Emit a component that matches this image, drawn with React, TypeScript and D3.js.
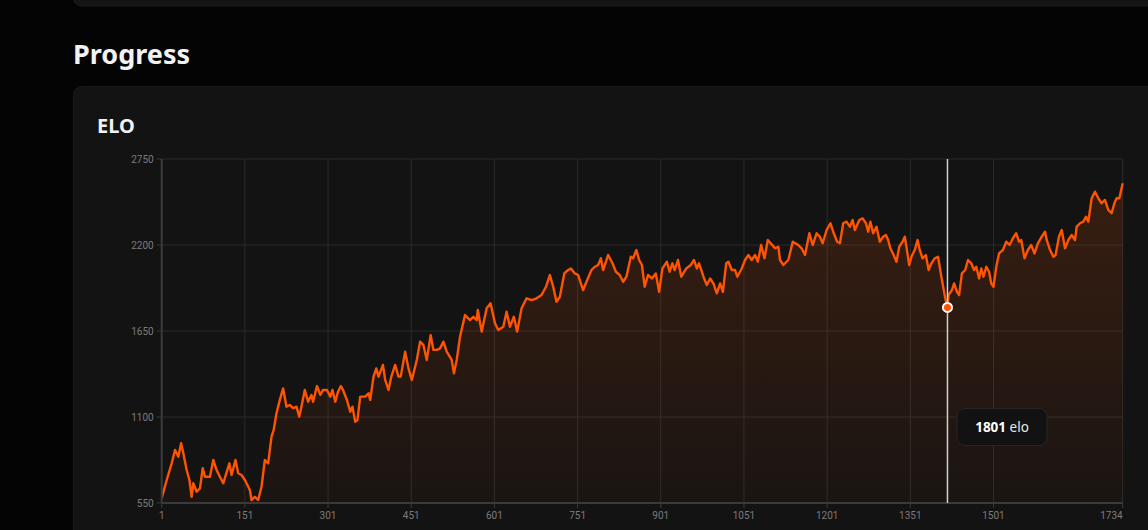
import React from "react";
import * as d3 from "d3";

const games = [
  1, 10, 19, 25, 31, 36, 40, 46, 51, 55, 58, 64, 70, 75, 79, 88, 94, 100, 106, 112,
  123, 127, 134, 139, 145, 151, 160, 163, 169, 175, 181, 187, 193, 199, 203, 208, 214, 220, 226, 232,
  238, 244, 249, 253, 259, 265, 271, 274, 281, 287, 292, 299, 305, 309, 314, 319, 324, 328, 335, 341,
  345, 350, 354, 359, 368, 374, 377, 383, 388, 392, 400, 404, 410, 415, 422, 428, 432, 440, 446, 452,
  455, 461, 467, 473, 479, 486, 491, 497, 503, 509, 515, 524, 528, 533, 539, 548, 557, 563, 569, 571,
  578, 587, 594, 602, 608, 617, 623, 629, 636, 642, 650, 659, 668, 677, 686, 694, 701, 707, 713, 719,
  727, 734, 739, 746, 752, 761, 767, 776, 782, 788, 793, 797, 806, 814, 820, 827, 833, 839, 847, 851,
  857, 862, 867, 872, 878, 885, 892, 898, 904, 912, 917, 922, 926, 932, 938, 947, 955, 961, 966, 970,
  978, 984, 990, 996, 1002, 1008, 1013, 1019, 1023, 1029, 1035, 1039, 1047, 1053, 1059, 1065, 1071, 1076, 1082, 1088,
  1094, 1102, 1107, 1113, 1116, 1122, 1131, 1139, 1149, 1155, 1161, 1169, 1175, 1182, 1188, 1193, 1200, 1207, 1212, 1219,
  1224, 1230, 1236, 1242, 1247, 1251, 1259, 1265, 1271, 1275, 1279, 1284, 1290, 1296, 1302, 1307, 1311, 1315, 1321, 1326,
  1331, 1337, 1341, 1344, 1349, 1353, 1359, 1364, 1368, 1373, 1379, 1384, 1389, 1395, 1401, 1407, 1414, 1418, 1420, 1426,
  1430, 1435, 1439, 1444, 1450, 1455, 1461, 1466, 1470, 1475, 1479, 1483, 1488, 1493, 1497, 1501, 1506, 1511, 1518, 1524,
  1530, 1536, 1542, 1547, 1551, 1557, 1563, 1569, 1575, 1581, 1588, 1594, 1597, 1603, 1609, 1613, 1619, 1624, 1630, 1636,
  1642, 1648, 1651, 1657, 1663, 1668, 1672, 1678, 1684, 1690, 1696, 1702, 1708, 1714, 1719, 1723, 1728, 1734,
];

const elo = [
  580, 697, 804, 889, 846, 932, 868, 761, 697, 590, 676, 622, 644, 772, 718, 718, 825, 761, 718, 676,
  804, 729, 825, 740, 729, 697, 633, 569, 590, 569, 654, 825, 804, 974, 1017, 1124, 1209, 1283, 1166, 1177,
  1156, 1166, 1102, 1166, 1273, 1198, 1241, 1198, 1298, 1241, 1273, 1273, 1230, 1273, 1198, 1262, 1298, 1273, 1209, 1134,
  1166, 1070, 1081, 1230, 1230, 1252, 1209, 1358, 1411, 1358, 1433, 1337, 1273, 1358, 1433, 1358, 1358, 1518, 1411, 1337,
  1379, 1465, 1582, 1560, 1465, 1624, 1529, 1529, 1539, 1582, 1518, 1465, 1379, 1465, 1614, 1752, 1720, 1741, 1720, 1784,
  1646, 1795, 1827, 1699, 1656, 1677, 1773, 1677, 1741, 1646, 1795, 1859, 1848, 1859, 1880, 1933, 2008, 1933, 1837, 1869,
  2018, 2040, 2050, 2018, 2008, 1912, 1965, 2040, 2061, 2072, 2115, 2040, 2136, 2083, 2029, 2008, 1965, 1997, 2125, 2115,
  2168, 2104, 2072, 1933, 2008, 1986, 2018, 1901, 2050, 2093, 2029, 2083, 2040, 2104, 1997, 2050, 2072, 2104, 2050, 2083,
  1997, 1944, 1986, 1954, 1891, 1954, 1901, 2083, 2093, 2040, 2040, 1997, 2050, 2104, 2136, 2104, 2136, 2093, 2200, 2115,
  2232, 2200, 2179, 2189, 2104, 2072, 2104, 2221, 2200, 2179, 2136, 2275, 2200, 2275, 2253, 2211, 2296, 2339, 2285, 2221,
  2211, 2339, 2349, 2317, 2360, 2296, 2360, 2370, 2339, 2285, 2349, 2275, 2317, 2221, 2253, 2264, 2232, 2179, 2136, 2093,
  2189, 2221, 2253, 2189, 2072, 2125, 2168, 2232, 2168, 2115, 2136, 2040, 2083, 2115, 2125, 1997, 1859, 1801, 1880, 1912,
  1954, 1901, 1880, 2018, 2040, 2104, 2083, 2040, 2061, 1986, 2050, 1997, 2061, 2029, 1954, 1933, 2061, 2146, 2168, 2221,
  2200, 2243, 2275, 2221, 2232, 2115, 2168, 2200, 2146, 2211, 2253, 2285, 2232, 2168, 2125, 2136, 2253, 2296, 2179, 2232,
  2264, 2232, 2317, 2339, 2349, 2381, 2349, 2499, 2541, 2499, 2467, 2488, 2424, 2403, 2467, 2499, 2499, 2595,
];

const xTicks = [1, 151, 301, 451, 601, 751, 901, 1051, 1201, 1351, 1501, 1734];
const yTicks = [550, 1100, 1650, 2200, 2750];
const hoverGame = 1418;
const hoverElo = 1801;

export default function App() {
  React.useEffect(() => {
    document.body.style.margin = "0";
    document.body.style.background = "#040404";
  }, []);

  const W = 1148;
  const H = 530;
  const left = 161.7;
  const right = 1122.7;
  const top = 159;
  const bottom = 503;

  const x = d3.scaleLinear().domain([1, 1734]).range([left, right]);
  const y = d3.scaleLinear().domain([550, 2750]).range([bottom, top]);

  const pts = games.map((g, i) => [g, elo[i]] as [number, number]);
  const line = d3
    .line<[number, number]>()
    .x((d) => x(d[0]))
    .y((d) => y(d[1]));
  const area = d3
    .area<[number, number]>()
    .x((d) => x(d[0]))
    .y0(bottom)
    .y1((d) => y(d[1]));

  const hx = x(hoverGame);
  const hy = y(hoverElo);
  const labelFont = "Roboto, 'Liberation Sans', sans-serif";

  return (
    <svg
      width={W}
      height={H}
      style={{ position: "absolute", left: 0, top: 0, display: "block" }}
    >
      <defs>
        <linearGradient id="areaGrad" gradientUnits="userSpaceOnUse" x1="0" y1={top} x2="0" y2={bottom}>
          <stop offset="0%" stopColor="#ff5500" stopOpacity={0.17} />
          <stop offset="100%" stopColor="#ff5500" stopOpacity={0.03} />
        </linearGradient>
        <clipPath id="plotClip">
          <rect x={left} y={top - 2} width={right - left + 2} height={bottom - top + 2} />
        </clipPath>
      </defs>
      <rect x={0} y={0} width={W} height={H} fill="#040404" />
      {/* previous card edge */}
      <rect x={73.5} y={-20} width={1100} height={26} rx={8} fill="#141414" stroke="#1c1c1c" />
      <text
        x={73}
        y={64}
        fill="#f2f2f2"
        fontSize={27}
        fontWeight={700}
        fontFamily="'Noto Sans', 'Open Sans', sans-serif"
      >
        Progress
      </text>
      {/* card */}
      <rect x={73.5} y={86.5} width={1100} height={480} rx={8} fill="#131313" stroke="#191919" />
      <text
        x={97}
        y={133}
        fill="#f2f2f2"
        fontSize={20}
        fontWeight={700}
        fontFamily="'Noto Sans', 'Open Sans', sans-serif"
      >
        ELO
      </text>

      {/* grid */}
      {yTicks.map((t) => (
        <line key={"gy" + t} x1={left} x2={right} y1={y(t)} y2={y(t)} stroke="#2b2b2b" strokeWidth={1} />
      ))}
      {xTicks.map((t) => (
        <line key={"gx" + t} x1={x(t)} x2={x(t)} y1={top} y2={bottom} stroke="#2b2b2b" strokeWidth={1} />
      ))}

      {/* area + line */}
      <g clipPath="url(#plotClip)">
        <path d={area(pts) || ""} fill="url(#areaGrad)" />
        <path d={line(pts) || ""} fill="none" stroke="#ff5500" strokeWidth={2.4} strokeLinejoin="round" />
      </g>

      {/* axes */}
      <line x1={left} x2={left} y1={top} y2={bottom} stroke="#3a3a3a" strokeWidth={2} />
      <line x1={left} x2={right} y1={bottom} y2={bottom} stroke="#3a3a3a" strokeWidth={2} />
      {yTicks.map((t) => (
        <g key={"ty" + t}>
          <line x1={left - 5} x2={left} y1={y(t)} y2={y(t)} stroke="#3a3a3a" strokeWidth={1} />
          <text
            x={left - 8}
            y={y(t)}
            dy="0.35em"
            textAnchor="end"
            fill="#7c7c7c"
            fontSize={10}
            fontFamily={labelFont}
          >
            {t}
          </text>
        </g>
      ))}
      {xTicks.map((t, i) => (
        <g key={"tx" + t}>
          <line x1={x(t)} x2={x(t)} y1={bottom} y2={bottom + 5} stroke="#3a3a3a" strokeWidth={1} />
          <text
            x={x(t)}
            y={519}
            textAnchor={i === xTicks.length - 1 ? "end" : "middle"}
            fill="#7c7c7c"
            fontSize={10}
            fontFamily={labelFont}
          >
            {t}
          </text>
        </g>
      ))}

      {/* hover */}
      <line x1={hx} x2={hx} y1={top} y2={bottom} stroke="#d0d0d0" strokeWidth={1.5} />
      <circle cx={hx} cy={hy} r={4.5} fill="#ff5500" stroke="#ffffff" strokeWidth={2} />
      <rect x={957} y={408.5} width={90} height={37} rx={8} fill="#121212" stroke="#262626" />
      <text
        x={1002}
        y={432}
        textAnchor="middle"
        fontSize={13.5}
        fontFamily="'Noto Sans', 'Open Sans', sans-serif"
        fill="#e8e8e8"
      >
        <tspan fontWeight={700} fill="#ffffff">{hoverElo}</tspan>
        <tspan> elo</tspan>
      </text>
    </svg>
  );
}
